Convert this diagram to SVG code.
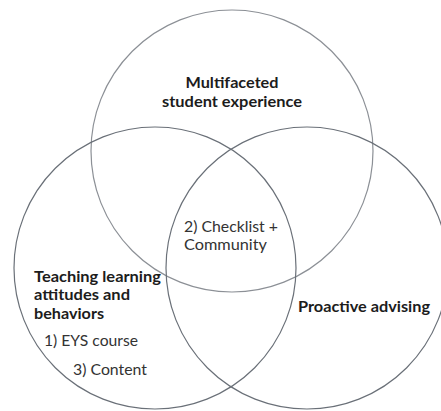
<svg xmlns="http://www.w3.org/2000/svg" width="441" height="411" viewBox="0 0 441 411">
  <style>
    .ring { fill: none; stroke: #6a7078; stroke-width: 1.2; }
    .ring-light { fill: none; stroke: #8c9096; stroke-width: 1.2; }
    .head { font-family: Lato, "Open Sans", sans-serif; font-weight: bold; font-size: 16px; fill: #1c1c1c; }
    .item { font-family: Lato, "Open Sans", sans-serif; font-size: 16px; fill: #333333; }
  </style>
  <rect width="441" height="411" fill="#ffffff"/>

  <!-- three overlapping sets -->
  <g id="set-experience">
    <circle class="ring-light" cx="232" cy="151" r="141"/>
    <text class="head" x="232" y="88" text-anchor="middle" textLength="93" lengthAdjust="spacingAndGlyphs">Multifaceted</text>
    <text class="head" x="232" y="107" text-anchor="middle" textLength="140" lengthAdjust="spacingAndGlyphs">student experience</text>
  </g>

  <g id="set-teaching">
    <circle class="ring" cx="155" cy="268" r="141"/>
    <text class="head" x="34" y="282" textLength="127" lengthAdjust="spacingAndGlyphs">Teaching learning</text>
    <text class="head" x="34" y="300" textLength="96" lengthAdjust="spacingAndGlyphs">attitudes and</text>
    <text class="head" x="34" y="319" textLength="70" lengthAdjust="spacingAndGlyphs">behaviors</text>
    <text class="item" x="44" y="346" textLength="94" lengthAdjust="spacingAndGlyphs">1) EYS course</text>
    <text class="item" x="73" y="375" textLength="74" lengthAdjust="spacingAndGlyphs">3) Content</text>
  </g>

  <g id="set-advising">
    <circle class="ring" cx="307" cy="268" r="141"/>
    <text class="head" x="298" y="312" textLength="132" lengthAdjust="spacingAndGlyphs">Proactive advising</text>
  </g>

  <g id="center">
    <text class="item" x="184" y="232" textLength="94" lengthAdjust="spacingAndGlyphs">2) Checklist +</text>
    <text class="item" x="184" y="250" textLength="83" lengthAdjust="spacingAndGlyphs">Community</text>
  </g>
</svg>
